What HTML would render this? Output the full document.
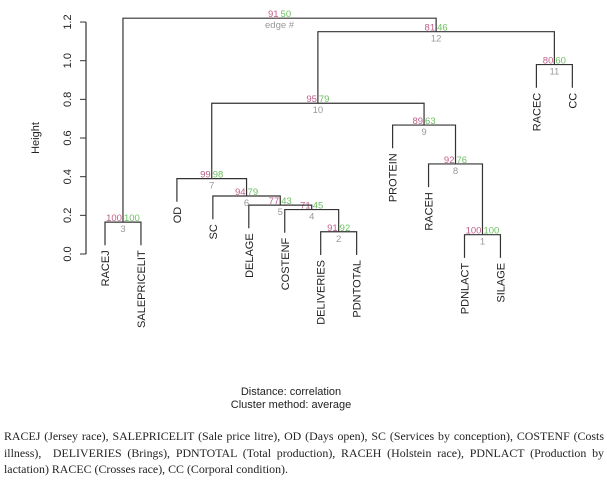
<!DOCTYPE html>
<html><head><meta charset="utf-8"><style>
body{margin:0;background:#fff;width:607px;height:489px;overflow:hidden;font-family:"Liberation Sans",sans-serif}
svg{position:absolute;left:0;top:0}
.cap{position:absolute;left:4px;top:428px;width:600px;font-family:"Liberation Serif",serif;font-size:11.9px;line-height:16.5px;color:#222;text-align:justify}
</style></head><body>
<svg id="chart" width="607" height="420"></svg>
<div class="cap">RACEJ (Jersey race), SALEPRICELIT (Sale price litre), OD (Days open), SC (Services by conception), COSTENF (Costs illness), &nbsp;DELIVERIES (Brings), PDNTOTAL (Total production), RACEH (Holstein race), PDNLACT (Production by lactation) RACEC (Crosses race), CC (Corporal condition).</div>
<script>
const leaves=["RACEJ","SALEPRICELIT","OD","SC","DELAGE","COSTENF","DELIVERIES","PDNTOTAL","PROTEIN","RACEH","PDNLACT","SILAGE","RACEC","CC"];
// merges: negative = leaf index (1-based), positive = merge index
const mergeA=[-11,-7,-1,-6,-5,-4,-3,-10,-9,7,-13,10,3];
const mergeB=[-12,-8,-2,2,4,5,6,1,8,9,-14,11,12];
const heights=[0.10,0.115,0.165,0.23,0.253,0.30,0.39,0.466,0.667,0.78,0.98,1.15,1.22];
const au=[100,91,100,71,77,94,99,92,89,95,80,81,91];
const bp=[100,92,100,45,43,79,98,76,63,79,60,46,50];
const yTicks=[0,0.2,0.4,0.6,0.8,1.0,1.2];
const svg=document.getElementById('chart');
const NS="http://www.w3.org/2000/svg";
const X=i=>105+i*35.95;
const Y=h=>254-h*193.3;
function mk(t,a,p){const e=document.createElementNS(NS,t);for(const k in a)e.setAttribute(k,a[k]);(p||svg).appendChild(e);return e;}
const ax=mk('g',{});


mk('line',{x1:86,x2:86,y1:Y(1.2),y2:Y(0),stroke:'#333','stroke-width':1.2},ax);
yTicks.forEach(v=>{
 mk('line',{x1:80,x2:86,y1:Y(v),y2:Y(v),stroke:'#333'},ax);
 const t=mk('text',{x:0,y:0,transform:`translate(71,${Y(v)}) rotate(-90)`,'text-anchor':'middle','font-size':11,fill:'#222'},ax);
 t.textContent=v.toFixed(1);
});
const yt=mk('text',{transform:'translate(39,138) rotate(-90)','text-anchor':'middle','font-size':11,fill:'#222'});
yt.textContent='Height';


const HANG=0.12;
const pos=[];
function node(r){if(r<0){const i=-r-1;return {x:X(i),h:null};}return pos[r-1];}
for(let k=0;k<heights.length;k++){
 const a=node(mergeA[k]),b=node(mergeB[k]);const h=heights[k];
 const g=mk('g',{});
 
 
 const ya=a.h===null?Y(h-HANG):Y(a.h), yb=b.h===null?Y(h-HANG):Y(b.h);
 mk('path',{d:`M${a.x},${ya}V${Y(h)}H${b.x}V${yb}`,fill:'none',stroke:'#333','stroke-width':1.2},g);
 const mx=(a.x+b.x)/2;
 pos.push({x:mx,h:h});
 const t1=mk('text',{x:mx-1,y:Y(h)-1,'text-anchor':'end','font-size':9.5,fill:'#c0608a'},g);t1.textContent=au[k];
 const t2=mk('text',{x:mx+1,y:Y(h)-1,'text-anchor':'start','font-size':9.5,fill:'#6cc060'},g);t2.textContent=bp[k];
 const t3=mk('text',{x:mx,y:Y(h)+10,'text-anchor':'middle','font-size':9.5,fill:'#999'},g);
 t3.textContent=(k===heights.length-1)?'edge #':(k+1);
}
leaves.forEach((n,i)=>{
 let h=null;
 for(let k=0;k<heights.length;k++){if(mergeA[k]===-(i+1)||mergeB[k]===-(i+1))h=heights[k];}
 const y=Y(h-HANG)+5;
 const t=mk('text',{transform:`translate(${X(i)+4},${y}) rotate(-90)`,'text-anchor':'end','font-size':11,fill:'#222'});
 t.textContent=n;
 
 
});
const s1=mk('text',{x:291,y:395,'text-anchor':'middle','font-size':11,fill:'#222'});s1.textContent='Distance:  correlation';


const s2=mk('text',{x:291,y:408,'text-anchor':'middle','font-size':11,fill:'#222'});s2.textContent='Cluster method: average';


</script>
</body></html>
